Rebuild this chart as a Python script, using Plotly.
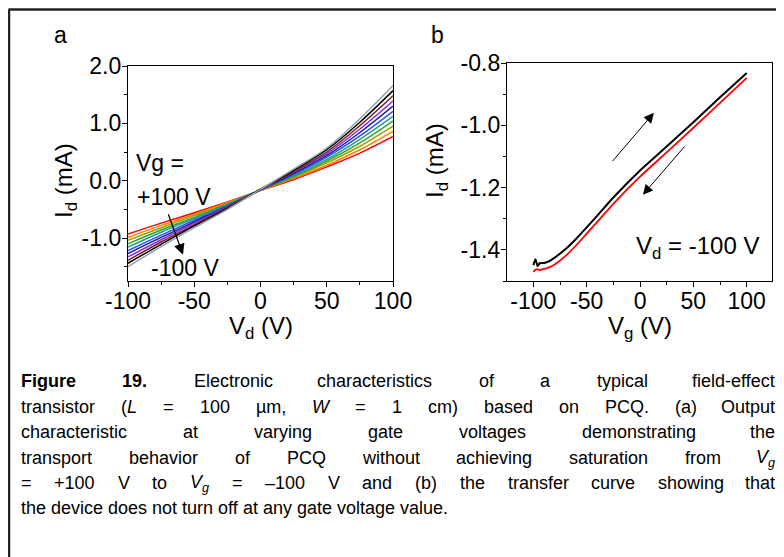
import re
import plotly.graph_objects as go

W, H = 784, 557
OFF = 8  # page body margin in the browser

# ---- panel a: output characteristics (Id vs Vd at several Vg) ----
vd = [-100, -75, -50, -25, 0, 25, 50, 75, 100]
vg_steps = [100, 80, 60, 40, 20, 0, -20, -40, -60, -80, -100]
id_output = [
    [-0.93, -0.74, -0.56, -0.37, -0.17, 0.02, 0.24, 0.48, 0.77],
    [-0.99, -0.78, -0.59, -0.38, -0.17, 0.04, 0.27, 0.54, 0.86],
    [-1.04, -0.82, -0.61, -0.40, -0.17, 0.06, 0.31, 0.60, 0.95],
    [-1.10, -0.86, -0.64, -0.41, -0.16, 0.07, 0.34, 0.66, 1.04],
    [-1.16, -0.90, -0.66, -0.42, -0.16, 0.09, 0.37, 0.72, 1.12],
    [-1.22, -0.95, -0.69, -0.44, -0.16, 0.11, 0.41, 0.78, 1.21],
    [-1.27, -0.99, -0.72, -0.45, -0.16, 0.13, 0.44, 0.84, 1.30],
    [-1.33, -1.03, -0.74, -0.46, -0.16, 0.15, 0.47, 0.90, 1.39],
    [-1.39, -1.07, -0.77, -0.47, -0.15, 0.16, 0.50, 0.96, 1.48],
    [-1.44, -1.11, -0.79, -0.49, -0.15, 0.18, 0.54, 1.02, 1.57],
    [-1.50, -1.15, -0.82, -0.50, -0.15, 0.20, 0.57, 1.08, 1.66],
]
curve_colors = ["#ff0000", "#ff7f00", "#9aa000", "#33a02c", "#1f9e89", "#1f4fff",
                "#1a1a8c", "#8a2be2", "#7a1f1f", "#000000", "#8fa3ad"]

# ---- panel b: transfer curve (Id vs Vg at Vd = -100 V) ----
vg_fwd = [-100, -98, -96, -94, -90, -85, -80, -70, -60, -50, -40, -25, 0, 25, 50, 75, 100]
id_fwd = [-1.449, -1.430, -1.452, -1.443, -1.442, -1.436, -1.425, -1.398, -1.365,
          -1.328, -1.290, -1.232, -1.145, -1.068, -0.990, -0.910, -0.832]
vg_rev = [-100, -97, -94, -90, -85, -80, -70, -60, -50, -40, -25, 0, 25, 50, 75, 100]
id_rev = [-1.471, -1.462, -1.465, -1.461, -1.456, -1.447, -1.420, -1.386, -1.348,
          -1.310, -1.252, -1.165, -1.087, -1.008, -0.928, -0.848]

caption_lines = [
    "<b>Figure</b> <b>19.</b> Electronic characteristics of a typical field-effect",
    "transistor (<i>L</i> = 100 µm, <i>W</i> = 1 cm) based on PCQ. (a) Output",
    "characteristic at varying gate voltages demonstrating the",
    "transport behavior of PCQ without achieving saturation from <i>V<sub>g</sub></i>",
    "= +100 V to <i>V<sub>g</sub></i> = –100 V and (b) the transfer curve showing that",
    "the device does not turn off at any gate voltage value.",
]


def fx(x):
    return (x - OFF) / W


def fy(y):
    return 1 - (y - OFF) / H


FONT = "Liberation Sans, Arial, sans-serif"

fig = go.Figure()

for vg, ys, col in zip(vg_steps, id_output, curve_colors):
    fig.add_trace(go.Scatter(x=vd, y=ys, mode="lines", name=f"Vg = {vg} V",
                             line=dict(color=col, width=1.5, shape="spline"),
                             xaxis="x", yaxis="y"))

fig.add_trace(go.Scatter(x=vg_rev, y=id_rev, mode="lines", name="reverse",
                         line=dict(color="#ff0000", width=1.8, shape="spline", smoothing=0.6),
                         xaxis="x2", yaxis="y2"))
fig.add_trace(go.Scatter(x=vg_fwd, y=id_fwd, mode="lines", name="forward",
                         line=dict(color="#000000", width=2, shape="spline", smoothing=0.6),
                         xaxis="x2", yaxis="y2"))

axis_common = dict(showline=True, linecolor="black", linewidth=1.3, mirror=True,
                   ticks="outside", ticklen=5, tickwidth=1.2, tickcolor="black",
                   showgrid=False, zeroline=False, tickmode="array", automargin=False,
                   tickfont=dict(family=FONT, size=23, color="black"))
minor_common = dict(ticks="outside", ticklen=3, tickwidth=1, tickcolor="black", showgrid=False)

fig.update_layout(
    width=W, height=H,
    margin=dict(l=0, r=0, t=0, b=0, pad=0),
    paper_bgcolor="white", plot_bgcolor="white",
    showlegend=False,
    xaxis=dict(domain=[fx(128), fx(393)], range=[-100, 100], anchor="y", ticklabelstandoff=-6,
               tickvals=[-100, -50, 0, 50, 100], ticktext=["-100", "-50", "0", "50", "100"],
               minor=dict(tickvals=[-75, -25, 25, 75], **minor_common), **axis_common),
    yaxis=dict(domain=[fy(281), fy(66)], range=[-1.75, 2.0], anchor="x", ticklabelstandoff=-4,
               tickvals=[-1.0, 0.0, 1.0, 2.0], ticktext=["-1.0", "0.0", "1.0", "2.0"],
               minor=dict(tickvals=[-1.5, -0.5, 0.5, 1.5], **minor_common), **axis_common),
    xaxis2=dict(domain=[fx(507), fx(772)], range=[-124.7, 123.7], anchor="y2", ticklabelstandoff=-6,
                tickvals=[-100, -50, 0, 50, 100], ticktext=["-100", "-50", "0", "50", "100"],
                minor=dict(tickvals=[-75, -25, 25, 75], **minor_common), **axis_common),
    yaxis2=dict(domain=[fy(281), fy(63)], range=[-1.5, -0.8], anchor="x2", ticklabelstandoff=-4,
                tickvals=[-1.4, -1.2, -1.0, -0.8], ticktext=["-1.4", "-1.2", "-1.0", "-0.8"],
                minor=dict(tickvals=[-1.5, -1.3, -1.1, -0.9], **minor_common), **axis_common),
)

ann = []


def label(text, x, y, size=23, xanchor="center", yanchor="middle", angle=0, family=FONT):
    ann.append(dict(text=text, x=fx(x), y=fy(y), xref="paper", yref="paper",
                    xanchor=xanchor, yanchor=yanchor, showarrow=False, textangle=angle,
                    font=dict(family=family, size=size, color="black")))


label("a", 60, 35)
label("b", 437, 35)
label("I<sub>d</sub> (mA)", 65, 181, size=24, angle=-90)
label("V<sub>d</sub> (V)", 261, 327, size=24)
label("I<sub>d</sub> (mA)", 436, 161, size=24, angle=-90)
label("V<sub>g</sub> (V)", 640, 327, size=24)
label("Vg =", 134, 163, xanchor="left")
label("+100 V", 135, 197, xanchor="left")
label("-100 V", 149, 268, xanchor="left")
label("V<sub>d</sub> = -100 V", 634, 247, size=24, xanchor="left")

# arrows
ann.append(dict(x=-58.5, y=-1.29, ax=-70, ay=-0.56, xref="x", yref="y", axref="x", ayref="y",
                showarrow=True, arrowhead=2, arrowsize=1.8, arrowwidth=1.2, arrowcolor="black", text=""))
ann.append(dict(x=13, y=-0.96, ax=-27, ay=-1.12, xref="x2", yref="y2", axref="x2", ayref="y2",
                showarrow=True, arrowhead=2, arrowsize=2, arrowwidth=1, arrowcolor="black", text=""))
ann.append(dict(x=2.7, y=-1.223, ax=43, ay=-1.063, xref="x2", yref="y2", axref="x2", ayref="y2",
                showarrow=True, arrowhead=2, arrowsize=2, arrowwidth=1, arrowcolor="black", text=""))

# ---- justified caption: word widths from Helvetica/Arial metrics ----
REG_W = {" ": 278, ".": 278, ",": 278, "(": 333, ")": 333, "=": 584, "+": 584, "-": 333,
         "–": 556, "µ": 556, "i": 222, "j": 222, "l": 222, "f": 278, "t": 278, "r": 333,
         "m": 833, "w": 722, "c": 500, "k": 500, "s": 500, "v": 500, "x": 500, "y": 500,
         "z": 500, "L": 556, "W": 944, "V": 667, "P": 667, "C": 722, "Q": 778, "O": 778}
BOLD_W = {"F": 611, "i": 278, "g": 611, "u": 611, "r": 389, "e": 556, ".": 278}
CAP_SIZE = 18


def word_width(word, size):
    w, bold, sub = 0.0, False, False
    for tok in re.split(r"(<[^>]+>)", word):
        if tok.startswith("<"):
            tag = tok.strip("<>/").lower()
            closing = tok.startswith("</")
            if tag == "b":
                bold = not closing
            elif tag == "sub":
                sub = not closing
            continue
        for ch in tok:
            base = BOLD_W.get(ch, REG_W.get(ch, 556)) if bold else REG_W.get(ch, 556)
            w += base * (0.7 if sub else 1.0)
    return w / 1000 * size


x_left, x_right = 20, 776
line_y = [381, 407, 432, 458, 483, 508]
for i, (line, ly) in enumerate(zip(caption_lines, line_y)):
    words = line.split(" ")
    widths = [word_width(wd, CAP_SIZE) for wd in words]
    justified = i < len(caption_lines) - 1
    if justified:
        gap = (x_right - x_left - sum(widths)) / (len(words) - 1)
    else:
        gap = word_width(" ", CAP_SIZE)
    pos = x_left
    for j, (wd, ww) in enumerate(zip(words, widths)):
        if justified and j == len(words) - 1:
            label(wd, x_right + 1, ly, size=CAP_SIZE, xanchor="right")
        else:
            label(wd, pos - 1, ly, size=CAP_SIZE, xanchor="left")
        pos += ww + gap

fig.update_layout(annotations=ann)

# frame around the figure (top and left edges)
fig.add_shape(type="line", xref="paper", yref="paper", x0=fx(8.5), x1=1, y0=fy(9.5), y1=fy(9.5),
              line=dict(color="#222222", width=2.5))
fig.add_shape(type="line", xref="paper", yref="paper", x0=fx(9), x1=fx(9), y0=fy(9.5), y1=0,
              line=dict(color="#222222", width=2.5))

fig.write_html("out.html")
